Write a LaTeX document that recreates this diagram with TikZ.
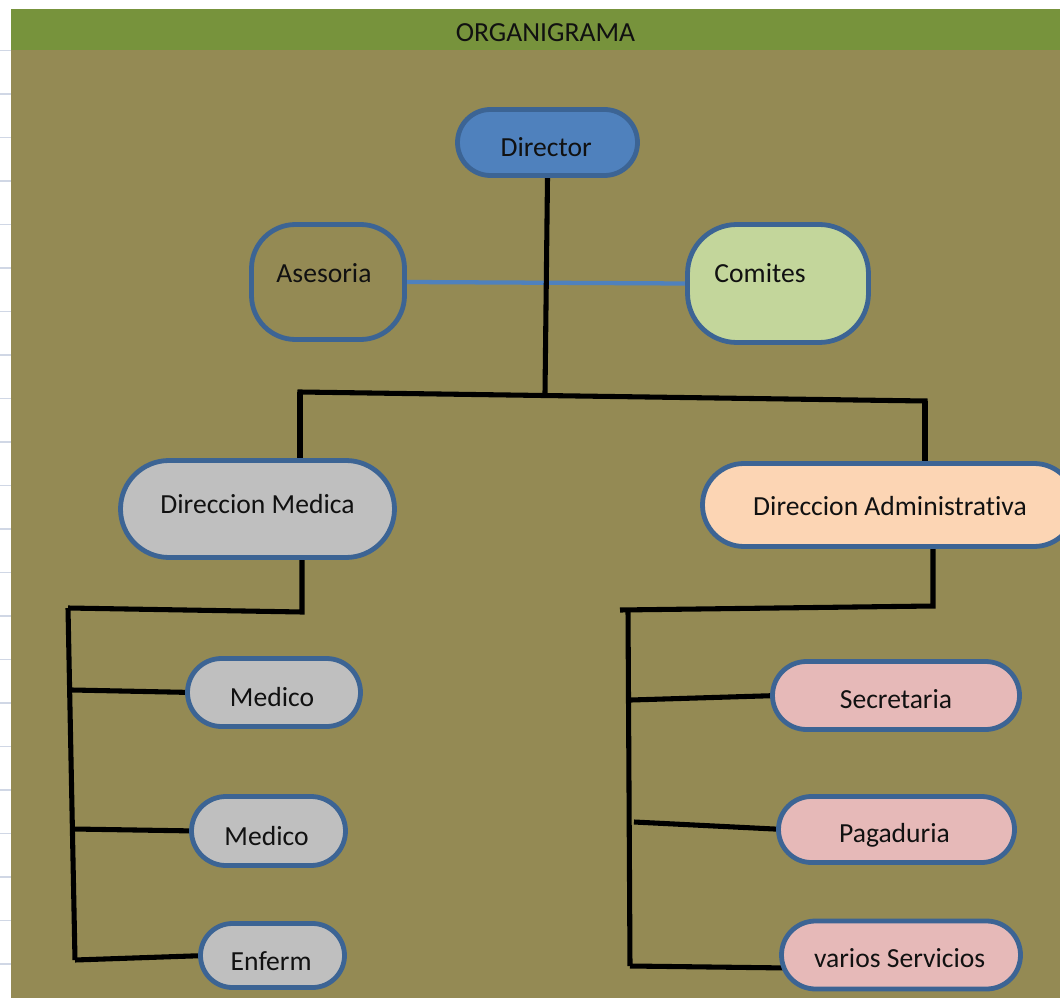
\documentclass[tikz,border=0pt]{standalone}
\usepackage{fontspec}
\setmainfont{Carlito}[Ligatures=NoCommon]
\usetikzlibrary{shapes.misc}
\pgfdeclarelayer{bgl}
\pgfdeclarelayer{linel}
\pgfsetlayers{bgl,linel,main}
\definecolor{olivebg}{HTML}{948A54}
\definecolor{hdrgreen}{HTML}{77933C}
\definecolor{bordblue}{HTML}{3C6494}
\definecolor{dirblue}{HTML}{4F81BD}
\definecolor{linkblue}{HTML}{4F81BD}
\definecolor{comgreen}{HTML}{C3D69B}
\definecolor{medgray}{HTML}{BFBFBF}
\definecolor{admpeach}{HTML}{FCD5B4}
\definecolor{subpink}{HTML}{E6B9B8}
\definecolor{gridc}{HTML}{D0D7E5}
\definecolor{txtc}{HTML}{111111}
\tikzset{
  orgbox/.style={draw=bordblue, line width=3.6pt, rounded corners=#1, inner sep=0pt},
  pill/.style={draw=bordblue, line width=3.6pt, rounded rectangle, inner sep=0pt},
  lbl/.style={font=\fontsize{20.7pt}{24pt}\selectfont, text=txtc, inner sep=0pt},
  conn/.style={line width=3.8pt, draw=black},
  bluelink/.style={line width=3.2pt, draw=linkblue},
}
\begin{document}
\begin{tikzpicture}[x=0.75pt,y=-0.75pt]
\useasboundingbox (0,0) rectangle (1060,998);
\begin{pgfonlayer}{bgl}
  \fill[white] (0,0) rectangle (1060,998);
  \fill[olivebg] (11,50) rectangle (1060,998);
  \fill[hdrgreen] (11,9) rectangle (1060,50);
  \foreach \k in {0,...,21} {
    \draw[gridc, line width=1.2pt] (0,50.5+43.5*\k) -- (11,50.5+43.5*\k);
  }
\end{pgfonlayer}

\node[lbl] (title) at (545.5,33) {ORGANIGRAMA};

% nodes
\node[pill, fill=dirblue, minimum width=135pt, minimum height=49.5pt,
  label={[lbl, xshift=-1pt, yshift=-3.4pt]center:Director}] (dir) at (547.5,142.5) {};
\node[orgbox=33pt, minimum width=114.75pt, minimum height=86.25pt,
  label={[lbl, xshift=-3pt, yshift=6.3pt]center:Asesoria}] (as) at (328,282) {};
\node[orgbox=37pt, fill=comgreen, minimum width=135.75pt, minimum height=88.5pt,
  label={[lbl, xshift=-13.5pt, yshift=7.9pt]center:Comites}] (co) at (778,283.5) {};
\node[pill, fill=medgray, minimum width=205.5pt, minimum height=72.75pt,
  label={[lbl, yshift=3.75pt]center:Direccion Medica}] (dm) at (257.5,509) {};
\node[pill, fill=admpeach, minimum width=279.75pt, minimum height=62.25pt,
  label={[lbl, xshift=0.75pt, yshift=-0.75pt]center:Direccion Administrativa}] (da) at (889,505) {};

\node[pill, fill=medgray, minimum width=129.75pt, minimum height=51pt,
  label={[lbl, xshift=-1.5pt, yshift=-3.4pt]center:Medico}] (m1) at (274,692.5) {};
\node[pill, fill=medgray, minimum width=115.5pt, minimum height=51.75pt,
  label={[lbl, xshift=-1.5pt, yshift=-3.4pt]center:Medico}] (m2) at (268.5,831) {};
\node[pill, fill=medgray, minimum width=108pt, minimum height=48pt,
  label={[lbl, xshift=-1pt, yshift=-4pt]center:Enferm}] (en) at (272.5,955.5) {};

\node[pill, fill=subpink, minimum width=185.25pt, minimum height=51pt,
  label={[lbl, yshift=-2.6pt]center:Secretaria}] (se) at (896,695.5) {};
\node[pill, fill=subpink, minimum width=177pt, minimum height=49.5pt,
  label={[lbl, xshift=-1.5pt, yshift=-4pt]center:Pagaduria}] (pa) at (896.5,829.5) {};
\node[pill, fill=subpink, minimum width=179.25pt, minimum height=51pt,
  label={[lbl, xshift=-1pt, yshift=-2.6pt]center:varios Servicios}] (va) at (901,955) {};

% junction coordinates
\coordinate (jd) at (545,393);
\coordinate (hL) at (300,392);
\coordinate (hR) at (925,401);
\coordinate (mA) at (302,612);
\coordinate (mB) at (68,608);
\coordinate (mC) at (75,960);
\coordinate (b1) at (72,690);
\coordinate (b2) at (73,829);
\coordinate (rA) at (933,606);
\coordinate (rB) at (620,610);
\coordinate (rT) at (628,610);
\coordinate (rC) at (630,966);
\coordinate (c1) at (631,700);
\coordinate (c2) at (634,822);

\begin{pgfonlayer}{linel}
  \draw[bluelink] (as.east) -- (co.west);
  \draw[conn] (dir.south) -- (jd);
  \draw[conn, line cap=rect] (hL) -- (hR);
  \draw[conn] (hL) -- (hL |- dm.north);
  \draw[conn] (hR) -- (hR |- da.north);
  % medical branch
  \draw[conn] (mA |- dm.south) -- (mA) -- (mB);
  \draw[conn] (mB) -- (mC);
  \draw[conn] (b1) -- ([xshift=6pt]m1.west);
  \draw[conn] (b2) -- ([xshift=6pt]m2.west);
  \draw[conn] (mC) -- ([xshift=6pt]en.west);
  % administrative branch
  \draw[conn] (rA |- da.south) -- (rA) -- (rB);
  \draw[conn] (rT) -- (rC);
  \draw[conn] (c1) -- ([xshift=6pt]se.west);
  \draw[conn] (c2) -- ([xshift=6pt]pa.west);
  \draw[conn] (rC) -- ([shift={(10,13)}]va.west);
\end{pgfonlayer}
\end{tikzpicture}
\end{document}
